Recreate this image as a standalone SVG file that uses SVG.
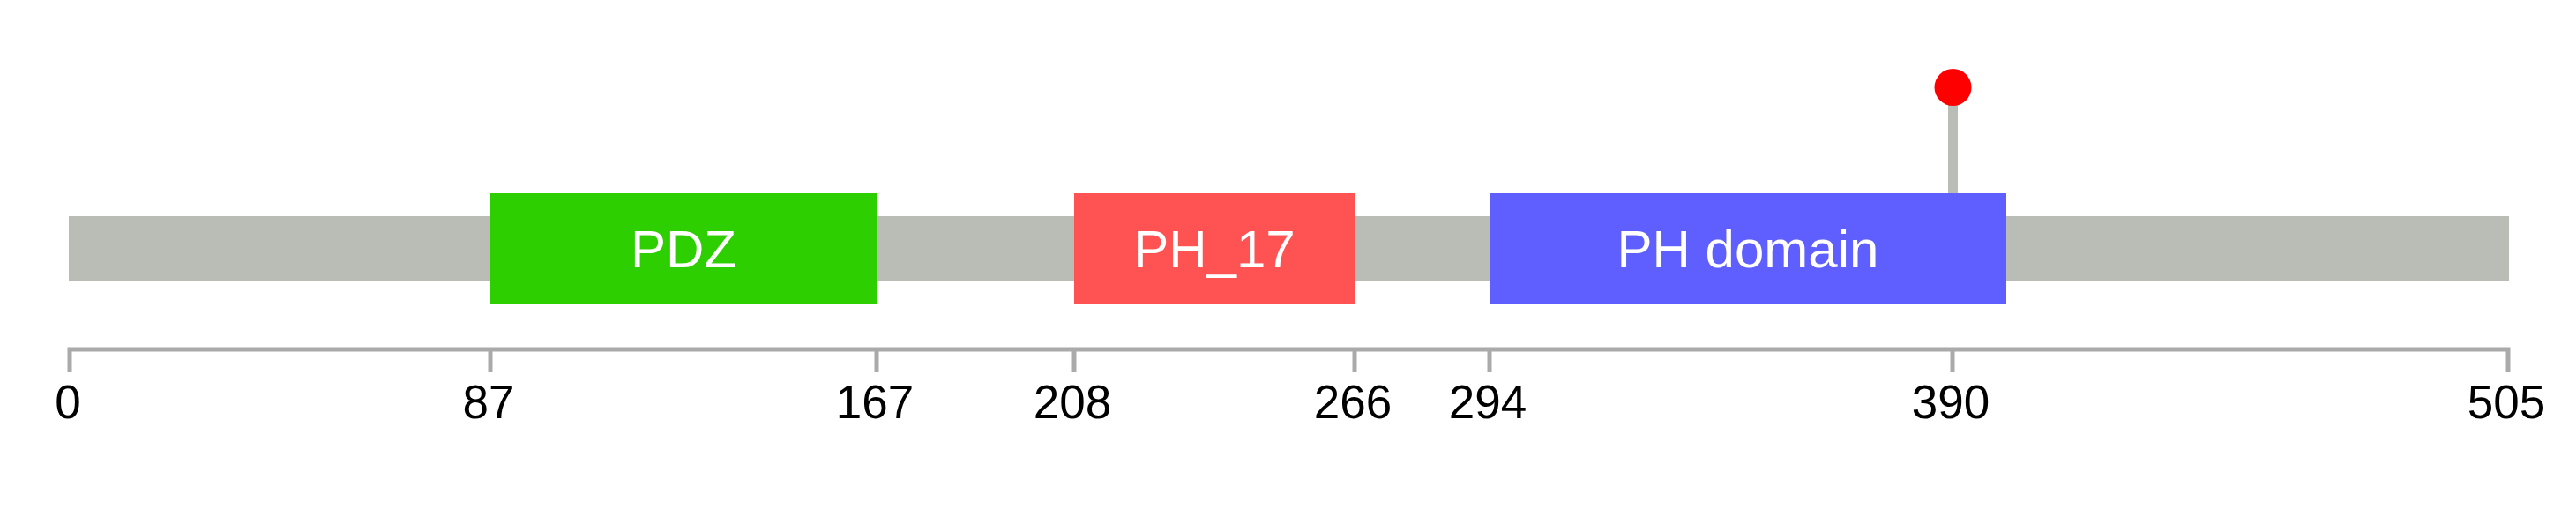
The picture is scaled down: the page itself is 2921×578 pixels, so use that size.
<svg xmlns="http://www.w3.org/2000/svg" width="2921" height="578" viewBox="0 0 2921 578">
<style>
.dl{font-family:"Liberation Sans",Arial,sans-serif;font-size:60px;fill:#ffffff;text-anchor:middle}
.tl{font-family:"Liberation Sans",Arial,sans-serif;font-size:53px;fill:#000000;text-anchor:middle}
.tick{stroke:#aaaaaa;stroke-width:5;fill:none}
</style>
<rect width="2921" height="578" fill="#ffffff"/>
<g id="backbone"><rect x="78" y="245" width="2767" height="73" fill="#babdb6"/></g>
<g id="connectors">
<line x1="2214.5" y1="219" x2="2214.5" y2="99" stroke="#babdb6" stroke-width="11"/>
<path class="tick" d="M79,422 V396 H2844 V422"/>
<line class="tick" x1="556" y1="396" x2="556" y2="422"/>
<line class="tick" x1="994" y1="396" x2="994" y2="422"/>
<line class="tick" x1="1218" y1="396" x2="1218" y2="422"/>
<line class="tick" x1="1536" y1="396" x2="1536" y2="422"/>
<line class="tick" x1="1689" y1="396" x2="1689" y2="422"/>
<line class="tick" x1="2214" y1="396" x2="2214" y2="422"/>
</g>
<g id="pdz"><rect x="556" y="219" width="438" height="125" fill="#2dcf00"/><text class="dl" x="775" y="303">PDZ</text></g>
<g id="ph17"><rect x="1218" y="219" width="318" height="125" fill="#ff5353"/><text class="dl" x="1377" y="303">PH_17</text></g>
<g id="phdomain"><rect x="1689" y="219" width="586" height="125" fill="#5f5fff"/><text class="dl" x="1982" y="303">PH domain</text></g>
<g id="mutation"><circle cx="2214.5" cy="99" r="21" fill="#ff0000"/></g>
<g id="labels">
<text class="tl" x="77" y="474">0</text>
<text class="tl" x="554" y="474">87</text>
<text class="tl" x="992" y="474">167</text>
<text class="tl" x="1216" y="474">208</text>
<text class="tl" x="1534" y="474">266</text>
<text class="tl" x="1687" y="474">294</text>
<text class="tl" x="2212" y="474">390</text>
<text class="tl" x="2842" y="474">505</text>
</g>
</svg>
